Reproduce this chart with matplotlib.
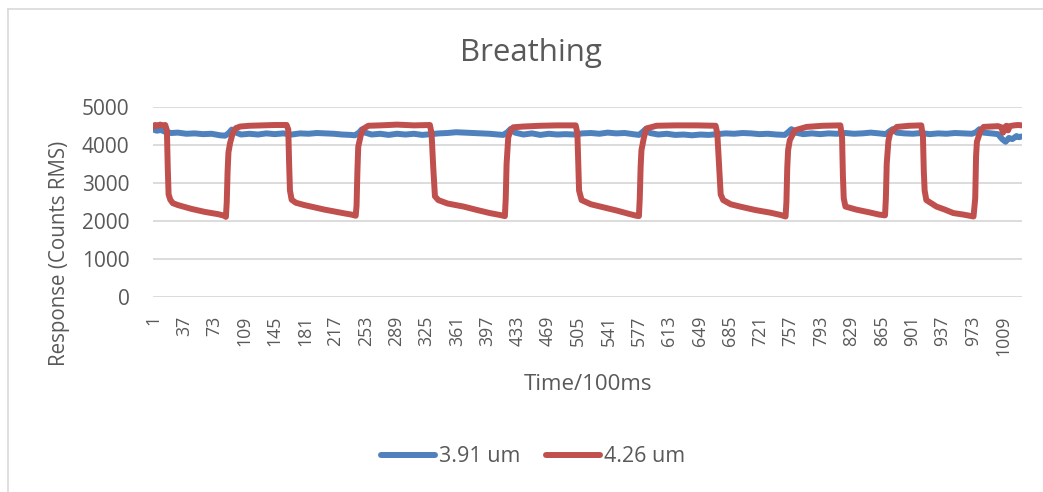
import matplotlib
matplotlib.use("Agg")
import matplotlib.pyplot as plt
from matplotlib.lines import Line2D

# ---------------- data ----------------
n_points = 1031
tick_labels = [str(v) for v in range(1, 1010, 36)]

series_names = ["3.91 um", "4.26 um"]

blue_t = [1, 5, 10, 15, 22, 30, 40, 50, 60, 70, 80, 86, 90, 94, 98, 105, 115, 125, 135, 145,
          155, 165, 175, 185, 195, 205, 215, 225, 235, 240, 245, 248, 252, 260, 270, 280, 290,
          300, 310, 320, 330, 340, 350, 360, 370, 380, 390, 400, 410, 416, 421, 425, 430, 440,
          450, 460, 470, 480, 490, 500, 510, 520, 530, 540, 550, 560, 570, 577, 581, 585, 590,
          600, 610, 620, 630, 640, 650, 660, 670, 680, 690, 700, 710, 720, 730, 740, 750, 754,
          758, 763, 772, 782, 792, 802, 812, 822, 832, 842, 852, 862, 870, 874, 878, 883, 892,
          902, 912, 922, 932, 942, 952, 962, 972, 977, 981, 986, 995, 1003, 1008, 1012, 1016,
          1020, 1025, 1028, 1031]
blue_v = [4400, 4370, 4390, 4340, 4310, 4320, 4290, 4300, 4280, 4290, 4250, 4240, 4300, 4400,
          4330, 4270, 4290, 4270, 4300, 4280, 4300, 4270, 4300, 4290, 4310, 4300, 4290, 4270,
          4260, 4250, 4320, 4400, 4320, 4270, 4290, 4260, 4290, 4270, 4290, 4260, 4280, 4300,
          4310, 4330, 4320, 4310, 4300, 4290, 4270, 4260, 4330, 4420, 4320, 4270, 4300, 4260,
          4290, 4270, 4280, 4270, 4300, 4310, 4290, 4320, 4300, 4310, 4280, 4260, 4330, 4410,
          4310, 4270, 4290, 4260, 4270, 4250, 4270, 4260, 4280, 4300, 4290, 4310, 4300, 4280,
          4290, 4270, 4260, 4330, 4410, 4320, 4280, 4300, 4280, 4300, 4290, 4310, 4290, 4300,
          4320, 4300, 4280, 4350, 4410, 4320, 4300, 4290, 4310, 4280, 4300, 4290, 4310, 4300,
          4290, 4330, 4410, 4320, 4300, 4280, 4150, 4080, 4180, 4150, 4230, 4200, 4220]

red_t = [1, 3, 6, 9, 12, 15, 17, 18, 19, 21, 24, 30, 38, 46, 54, 62, 70, 78, 85, 87,
         88, 89, 90, 92, 95, 99, 104, 115, 130, 145, 159,
         161, 162, 163, 165, 170, 180, 192, 204, 216, 228, 236, 241,
         242, 243, 244, 247, 250, 256, 270, 290, 310, 329,
         331, 333, 335, 339, 350, 369, 385, 400, 412, 418,
         419, 420, 422, 425, 428, 440, 460, 480, 502,
         504, 505, 506, 509, 520, 535, 550, 565, 574, 577,
         578, 579, 580, 583, 586, 598, 620, 645, 668,
         670, 672, 674, 677, 686, 697, 715, 733, 745, 751,
         752, 753, 754, 756, 762, 776, 795, 816,
         818, 819, 820, 822, 835, 850, 862, 869,
         870, 871, 873, 875, 883, 898, 912,
         914, 915, 916, 918, 930, 940, 950, 962, 974,
         976, 977, 978, 982, 986, 995, 1003, 1007, 1009, 1011, 1013, 1015, 1017, 1022, 1027, 1031]
red_v = [4470, 4520, 4500, 4530, 4510, 4520, 4380, 3400, 2700, 2560, 2470, 2420, 2370, 2320,
         2280, 2240, 2210, 2180, 2140, 2110,
         2500, 3300, 3800, 4050, 4300, 4440, 4480, 4500, 4510, 4520, 4520,
         4400, 3500, 2800, 2560, 2480, 2420, 2360, 2300, 2250, 2200, 2170, 2140,
         2400, 3300, 3950, 4250, 4420, 4500, 4510, 4530, 4510, 4520,
         4300, 3400, 2650, 2550, 2460, 2380, 2290, 2210, 2160, 2130,
         2600, 3500, 4200, 4380, 4460, 4480, 4500, 4510, 4510,
         4300, 3500, 2800, 2550, 2440, 2360, 2280, 2190, 2140, 2130,
         2600, 3400, 3860, 4200, 4430, 4500, 4510, 4510, 4500,
         4300, 3500, 2700, 2550, 2440, 2380, 2290, 2220, 2160, 2120,
         2500, 3400, 3860, 4120, 4380, 4470, 4500, 4510,
         4200, 3200, 2600, 2380, 2300, 2230, 2170, 2150,
         2600, 3500, 4100, 4300, 4470, 4500, 4510,
         4200, 3300, 2800, 2550, 2380, 2300, 2210, 2170, 2120,
         2600, 3700, 4080, 4350, 4470, 4480, 4490, 4460, 4320, 4460, 4500, 4380, 4490, 4510,
         4520, 4510]

y_ticks = [0, 1000, 2000, 3000, 4000, 5000]

# ---------------- style ----------------
W, H = 1043, 492
BLUE = "#4F81BD"
RED = "#C0504D"
TXT = "#595959"
GRID = "#D9D9D9"
FONT = ["Open Sans", "DejaVu Sans"]
plt.rcParams["font.family"] = FONT

fig = plt.figure(figsize=(W / 100, H / 100), dpi=100)
fig.patch.set_facecolor("white")

# plot area in pixels
L, R, T, B = 153, 1022, 106.7, 297.3
ax = fig.add_axes([L / W, 1 - B / H, (R - L) / W, (B - T) / H])

LW = 4.3
ax.plot(blue_t, blue_v, color=BLUE, lw=LW, solid_joinstyle="round", solid_capstyle="round", zorder=3)
ax.plot(red_t, red_v, color=RED, lw=LW, solid_joinstyle="round", solid_capstyle="round", zorder=4)

ax.set_xlim(0.5, n_points + 0.5)
ax.set_ylim(0, 5000)
ax.set_yticks(y_ticks)
ax.set_yticklabels([str(v) for v in y_ticks])
ax.set_xticks(range(1, 1010, 36))
ax.set_xticklabels(tick_labels, rotation=90, va="top", ha="center")

ax.grid(axis="y", color=GRID, lw=1.3)
ax.set_axisbelow(True)
for s in ax.spines.values():
    s.set_visible(False)
ax.tick_params(axis="both", length=0, colors=TXT)
ax.tick_params(axis="y", labelsize=15, pad=17)
ax.tick_params(axis="x", labelsize=12.8, pad=13)

# titles
fig.text(531 / W, 1 - 53 / H, "Breathing", ha="center", va="center", fontsize=22.5, color=TXT)
fig.text(588 / W, 1 - 385 / H, "Time/100ms", ha="center", va="center", fontsize=16, color=TXT)
fig.text(59 / W, 1 - 253 / H, "Response (Counts RMS)", ha="center", va="center",
         rotation=90, fontsize=14.8, color=TXT)

# legend
handles = [Line2D([], [], color=BLUE, lw=LW, solid_capstyle="round"),
           Line2D([], [], color=RED, lw=LW, solid_capstyle="round")]
leg = fig.legend(handles, series_names, loc="center", bbox_to_anchor=(533 / W, 1 - 457 / H),
                 ncol=2, frameon=False, fontsize=15.5, handlelength=2.5, handletextpad=0.2,
                 columnspacing=1.2)
for t in leg.get_texts():
    t.set_color(TXT)

# chart border (only left/top visible in crop)
fig.add_artist(Line2D([8 / W, 8 / W], [0, 1 - 9 / H], color=GRID, lw=1.2, transform=fig.transFigure))
fig.add_artist(Line2D([8 / W, 1], [1 - 9 / H, 1 - 9 / H], color=GRID, lw=1.2, transform=fig.transFigure))

fig.savefig("out.png", dpi=100, facecolor="white")
